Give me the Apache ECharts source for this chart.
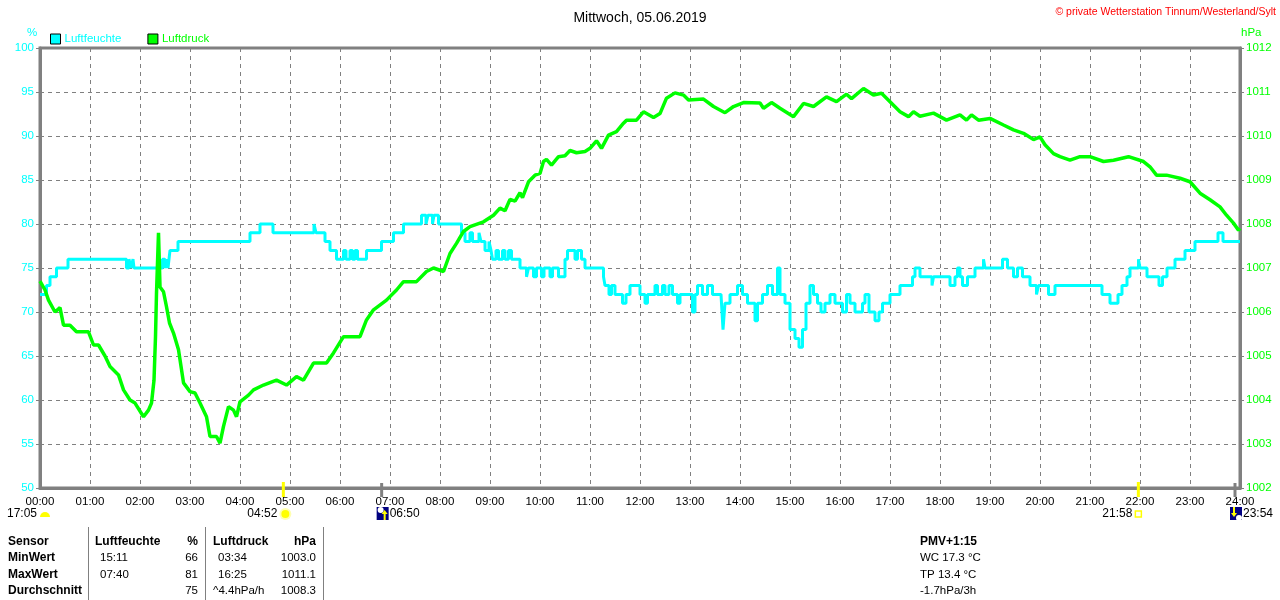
<!DOCTYPE html>
<html>
<head>
<meta charset="utf-8">
<script src="https://cdn.jsdelivr.net/npm/echarts/dist/echarts.min.js"></script>
<style>
html,body{margin:0;padding:0;background:#fff}
#chart{width:1280px;height:600px}
</style>
</head>
<body>
<div id="chart"></div>
<script>
// Luftfeuchte [Stunde, %] - Treppenkurve, jeder Punkt = Beginn eines Plateaus
var humidity = [
    [0.00,72],[0.13,73],[0.20,74],[0.33,75],[0.56,76],[1.73,75],[1.78,76],[1.82,75],[1.86,76],[1.88,75],
    [2.45,76],[2.50,75],[2.53,76],[2.56,75],[2.60,77],[2.76,78],[4.20,79],[4.40,80],[4.66,79],[5.48,80],
    [5.52,79],[5.70,78],[5.80,77],[5.93,76],[6.07,77],[6.12,76],[6.20,77],[6.25,76],[6.30,77],[6.35,76],
    [6.53,77],[6.83,78],[7.07,79],[7.27,80],[7.63,81],[7.72,80],[7.76,81],[7.85,80],[7.88,81],[7.97,80],
    [8.43,79],[8.50,78],[8.60,79],[8.65,78],[8.78,79],[8.82,78],[8.90,77],[8.98,78],[9.02,77],[9.05,76],
    [9.12,77],[9.17,76],[9.25,77],[9.30,76],[9.37,77],[9.43,76],[9.60,75],[9.73,74],[9.77,75],[9.87,74],
    [9.93,75],[10.03,74],[10.08,75],[10.20,74],[10.25,75],[10.37,74],[10.50,76],[10.55,77],[10.70,76],[10.75,77],
    [10.83,76],[10.90,75],[11.27,74],[11.30,73],[11.38,72],[11.43,73],[11.50,72],[11.65,71],[11.72,72],[11.80,73],
    [12.00,72],[12.10,71],[12.15,72],[12.30,73],[12.35,72],[12.45,73],[12.50,72],[12.58,73],[12.65,72],[12.75,71],
    [12.80,72],[13.05,70],[13.10,72],[13.15,73],[13.25,72],[13.35,73],[13.45,72],[13.62,72],[13.66,68],[13.70,71],
    [13.80,72],[13.95,73],[14.05,72],[14.15,71],[14.30,69],[14.35,71],[14.45,72],[14.55,73],[14.65,72],[14.75,75],
    [14.80,72],[14.90,71],[15.00,68],[15.10,67],[15.18,66],[15.25,68],[15.32,71],[15.40,73],[15.47,72],[15.55,71],
    [15.62,70],[15.70,71],[15.80,72],[15.90,71],[16.05,70],[16.13,72],[16.20,71],[16.30,70],[16.45,71],[16.50,72],
    [16.58,70],[16.70,69],[16.78,70],[16.85,71],[17.00,72],[17.20,73],[17.45,74],[17.50,75],[17.60,74],[17.84,73],
    [17.87,74],[18.20,73],[18.30,74],[18.35,75],[18.40,74],[18.45,73],[18.55,74],[18.70,75],[18.87,76],[18.90,75],
    [19.25,76],[19.35,75],[19.47,74],[19.55,75],[19.65,74],[19.80,73],[19.93,72],[19.97,73],[20.17,72],[20.30,73],
    [21.24,72],[21.40,71],[21.56,72],[21.64,73],[21.74,74],[21.80,75],[21.97,76],[22.00,75],[22.14,74],[22.38,73],
    [22.45,74],[22.54,75],[22.70,76],[22.90,77],[23.10,78],[23.56,79],[23.66,78],[24.00,78]
];

// Luftdruck [Stunde, hPa]
var pressure = [
    [0.00,1006.70],[0.10,1006.50],[0.17,1006.27],[0.30,1006.00],[0.40,1006.10],[0.47,1005.70],[0.60,1005.70],[0.73,1005.55],
    [0.97,1005.55],[1.07,1005.25],[1.17,1005.25],[1.30,1005.00],[1.40,1004.76],[1.57,1004.57],[1.67,1004.23],[1.80,1004.00],
    [1.90,1003.93],[2.07,1003.62],[2.17,1003.77],[2.23,1003.93],[2.28,1004.45],[2.31,1005.44],[2.33,1006.43],[2.37,1007.80],
    [2.40,1006.57],[2.47,1006.46],[2.53,1006.12],[2.59,1005.75],[2.67,1005.52],[2.77,1005.14],[2.87,1004.39],[3.00,1004.19],
    [3.10,1004.16],[3.20,1003.93],[3.33,1003.62],[3.40,1003.17],[3.53,1003.17],[3.60,1003.02],[3.67,1003.40],[3.77,1003.85],
    [3.87,1003.77],[3.93,1003.62],[4.00,1003.96],[4.17,1004.11],[4.27,1004.23],[4.47,1004.34],[4.73,1004.45],[4.93,1004.34],
    [5.13,1004.53],[5.27,1004.45],[5.47,1004.84],[5.73,1004.84],[5.87,1005.07],[6.07,1005.44],[6.40,1005.44],[6.53,1005.82],
    [6.67,1006.05],[6.93,1006.27],[7.13,1006.50],[7.27,1006.69],[7.53,1006.69],[7.73,1006.92],[7.87,1007.00],[8.07,1006.92],
    [8.20,1007.33],[8.33,1007.56],[8.47,1007.83],[8.60,1007.94],[8.87,1008.05],[9.07,1008.20],[9.20,1008.36],[9.30,1008.30],
    [9.40,1008.56],[9.50,1008.52],[9.60,1008.71],[9.65,1008.60],[9.77,1008.96],[9.90,1009.11],[10.00,1009.15],[10.07,1009.42],
    [10.13,1009.47],[10.23,1009.34],[10.37,1009.53],[10.50,1009.55],[10.60,1009.67],[10.73,1009.62],[10.90,1009.65],[11.00,1009.72],
    [11.13,1009.89],[11.23,1009.72],[11.37,1010.02],[11.53,1010.10],[11.67,1010.29],[11.73,1010.36],[11.93,1010.36],[12.07,1010.55],
    [12.27,1010.42],[12.40,1010.51],[12.53,1010.86],[12.70,1010.98],[12.87,1010.93],[12.97,1010.82],[13.27,1010.84],[13.47,1010.67],
    [13.70,1010.53],[13.87,1010.67],[14.07,1010.76],[14.40,1010.75],[14.47,1010.63],[14.63,1010.76],[14.80,1010.63],[15.07,1010.44],
    [15.27,1010.74],[15.47,1010.67],[15.73,1010.89],[15.93,1010.78],[16.13,1010.95],[16.23,1010.85],[16.47,1011.08],[16.67,1010.93],
    [16.83,1010.97],[17.00,1010.78],[17.20,1010.55],[17.37,1010.44],[17.47,1010.55],[17.60,1010.45],[17.87,1010.52],[18.13,1010.36],
    [18.40,1010.48],[18.53,1010.36],[18.63,1010.48],[18.77,1010.36],[19.00,1010.40],[19.27,1010.25],[19.47,1010.14],[19.67,1010.06],
    [19.87,1009.92],[20.00,1009.98],[20.10,1009.80],[20.27,1009.60],[20.40,1009.53],[20.60,1009.45],[20.80,1009.53],[21.00,1009.53],
    [21.27,1009.42],[21.47,1009.45],[21.77,1009.53],[22.07,1009.42],[22.20,1009.30],[22.33,1009.11],[22.53,1009.11],[22.80,1009.04],
    [23.00,1008.96],[23.20,1008.70],[23.40,1008.55],[23.60,1008.39],[23.73,1008.20],[23.87,1008.02],[23.97,1007.86],[24.00,1007.90]
];

// Sonne / Mond Zeiten [Stunde, Beschriftung]
var sunTimes = [[4.867,'04:52'],[21.967,'21:58']];
var moonTimes = [[6.833,'06:50'],[23.9,'23:54']];

// Tabelle
var tableHead = ['Sensor','Luftfeuchte','%','Luftdruck','hPa'];
var rowNames = ['MinWert','MaxWert','Durchschnitt'];
var humTimes = ['15:11','07:40',''];
var humVals = ['66','81','75'];
var pressTimes = ['03:34','16:25','^4.4hPa/h'];
var pressVals = ['1003.0','1011.1','1008.3'];
var pmvLines = ['PMV+1:15','WC 17.3 °C','TP 13.4 °C','-1.7hPa/3h'];

var FONT = '"Liberation Sans", Arial, sans-serif';
var CYAN = '#00ffff', GREEN = '#00ff00', GRAY = '#808080';

var myChart = echarts.init(document.getElementById('chart'));
var option = {
    animation: false,
    backgroundColor: '#fff',
    title: {
        text: 'Mittwoch, 05.06.2019',
        left: 'center',
        top: 6,
        textStyle: {fontFamily: FONT, fontSize: 14, fontWeight: 'normal', color: '#000'}
    },
    legend: {
        left: 45,
        top: 28,
        icon: 'rect',
        itemWidth: 10,
        itemHeight: 10,
        itemGap: 26,
        textStyle: {fontFamily: FONT, fontSize: 11.5, padding: [0,0,0,-1]},
        itemStyle: {borderColor: '#000', borderWidth: 1},
        data: [
            {name: 'Luftfeuchte', textStyle: {color: CYAN}},
            {name: 'Luftdruck', textStyle: {color: GREEN}}
        ]
    },
    grid: {
        left: 40, right: 40, top: 48, bottom: 112,
        containLabel: false,
        outerBoundsMode: 'none',
        show: true,
        borderColor: GRAY,
        borderWidth: 3
    },
    xAxis: {
        type: 'value',
        min: 0, max: 24, interval: 1,
        axisLine: {lineStyle: {color: GRAY, width: 3}},
        axisTick: {show: false},
        axisLabel: {
            color: '#000', fontFamily: FONT, fontSize: 11.5, margin: 8,
            formatter: function(v){ return (v < 10 ? '0' : '') + v + ':00'; }
        },
        splitLine: {lineStyle: {color: GRAY, type: [4,4], width: 1}}
    },
    yAxis: [
        {
            type: 'value',
            min: 50, max: 100, interval: 5,
            axisLine: {show: true, lineStyle: {color: GRAY, width: 3}},
            axisTick: {show: true, length: 4, lineStyle: {color: GRAY}},
            axisLabel: {color: CYAN, fontFamily: FONT, fontSize: 11.5, margin: 6},
            splitLine: {lineStyle: {color: GRAY, type: [4,4], width: 1}}
        },
        {
            type: 'value',
            min: 1002, max: 1012, interval: 1,
            position: 'right',
            axisLine: {show: true, lineStyle: {color: GRAY, width: 3}},
            axisTick: {show: true, length: 4, lineStyle: {color: GRAY}},
            axisLabel: {
                color: GREEN, fontFamily: FONT, fontSize: 11.5, margin: 6,
                formatter: function(v){ return String(v); }
            },
            splitLine: {show: false}
        }
    ],
    series: [
        {
            name: 'Luftfeuchte',
            type: 'line',
            yAxisIndex: 0,
            step: 'end',
            showSymbol: false,
            color: CYAN,
            lineStyle: {color: CYAN, width: 3},
            data: humidity
        },
        {
            name: 'Luftdruck',
            type: 'line',
            yAxisIndex: 1,
            showSymbol: false,
            color: GREEN,
            lineStyle: {color: GREEN, width: 3.5},
            data: pressure
        }
    ]
};
myChart.setOption(option);

// Zusatzgrafik: Texte, Tabelle, Sonne/Mond
function txt(x, y, s, opt){
    opt = opt || {};
    return {
        type: 'text', x: x, y: y, z: 100,
        style: {
            text: s,
            font: (opt.bold ? 'bold ' : '') + (opt.size || 11) + 'px ' + FONT,
            fill: opt.color || '#000',
            align: opt.align || 'left', textAlign: opt.align || 'left',
            verticalAlign: 'middle', textVerticalAlign: 'middle'
        }
    };
}
function vline(x, y1, y2, color, w){
    return {type: 'line', z: 100, shape: {x1: x, y1: y1, x2: x, y2: y2}, style: {stroke: color, lineWidth: w}};
}

var g = [];
g.push(txt(1276, 12, '© private Wetterstation Tinnum/Westerland/Sylt', {color: '#ff0000', align: 'right', size: 10.5}));
g.push(txt(27, 33, '%', {color: CYAN, size: 11.5}));
g.push(txt(1241, 33, 'hPa', {color: GREEN, size: 11.5}));

// Sonne
sunTimes.forEach(function(s, i){
    var px = myChart.convertToPixel({xAxisIndex: 0}, s[0]);
    g.push(vline(px, 482, 497, '#ffff00', 3));
    if (i === 0) {
        g.push({type: 'circle', z: 100, shape: {cx: px + 2, cy: 514, r: 6}, style: {fill: '#ffffb0'}});
        g.push({type: 'circle', z: 101, shape: {cx: px + 2, cy: 514, r: 4}, style: {fill: '#ffff00'}});
        g.push(txt(px - 6, 514, s[1], {align: 'right', size: 12}));
    } else {
        g.push({type: 'rect', z: 100, shape: {x: px - 3, y: 511, width: 6, height: 6}, style: {fill: '#fff', stroke: '#ffff00', lineWidth: 1.5}});
        g.push(txt(px - 6, 514, s[1], {align: 'right', size: 12}));
    }
});
// Mond
moonTimes.forEach(function(m, i){
    var px = myChart.convertToPixel({xAxisIndex: 0}, m[0]);
    g.push(vline(px, 483, 497, GRAY, 3));
    g.push({type: 'rect', z: 100, shape: {x: px - 5, y: 507, width: 12, height: 13}, style: {fill: '#000080'}});
    if (i === 0) {
        g.push({type: 'circle', z: 101, shape: {cx: px - 1, cy: 510, r: 3}, style: {fill: '#fff'}});
        g.push({type: 'polygon', z: 101, shape: {points: [[px + 3, 510], [px, 514], [px + 6, 514]]}, style: {fill: '#ffff00'}});
        g.push(vline(px + 3, 513, 520, '#ffff00', 2));
    } else {
        g.push({type: 'circle', z: 101, shape: {cx: px + 4, cy: 518, r: 3}, style: {fill: '#fff'}});
        g.push(vline(px - 1, 507, 514, '#ffff00', 2));
        g.push({type: 'polygon', z: 101, shape: {points: [[px - 1, 517], [px - 4, 513], [px + 2, 513]]}, style: {fill: '#ffff00'}});
    }
    g.push(txt(px + 8, 514, m[1], {size: 12}));
});
// 17:05 links unten
g.push(txt(37, 514, '17:05', {align: 'right', size: 12}));
g.push({type: 'sector', z: 100, shape: {cx: 45, cy: 517, r: 5, r0: 0, startAngle: Math.PI, endAngle: 2 * Math.PI}, style: {fill: '#ffff00'}});

// Tabelle
var rowY = [542, 558, 575, 591];
g.push(vline(88.5, 527, 600, GRAY, 1));
g.push(vline(205.5, 527, 600, GRAY, 1));
g.push(vline(323.5, 527, 600, GRAY, 1));
g.push(txt(8, rowY[0], tableHead[0], {bold: true, size: 12}));
g.push(txt(95, rowY[0], tableHead[1], {bold: true, size: 12}));
g.push(txt(198, rowY[0], tableHead[2], {bold: true, size: 12, align: 'right'}));
g.push(txt(213, rowY[0], tableHead[3], {bold: true, size: 12}));
g.push(txt(316, rowY[0], tableHead[4], {bold: true, size: 12, align: 'right'}));
rowNames.forEach(function(n, i){
    var y = rowY[i + 1];
    g.push(txt(8, y, n, {bold: true, size: 12}));
    if (humTimes[i]) g.push(txt(100, y, humTimes[i], {size: 11.5}));
    g.push(txt(198, y, humVals[i], {size: 11.5, align: 'right'}));
    g.push(txt(i === 2 ? 213 : 218, y, pressTimes[i], {size: 11.5}));
    g.push(txt(316, y, pressVals[i], {size: 11.5, align: 'right'}));
});
pmvLines.forEach(function(s, i){
    g.push(txt(920, rowY[i], s, {bold: i === 0, size: i === 0 ? 12 : 11.5}));
});

myChart.setOption({graphic: {elements: g}});
</script>
</body>
</html>
